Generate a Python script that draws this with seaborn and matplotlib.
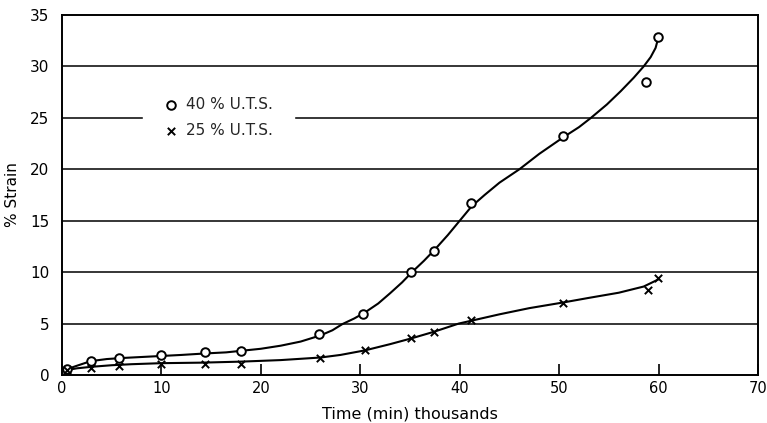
import matplotlib
matplotlib.use("Agg")
import matplotlib.pyplot as plt
import seaborn as sns
import pandas as pd

# Measured points
time_40 = [0.5, 2.9, 5.7, 10.0, 14.4, 18.0, 25.8, 30.3, 35.1, 37.4, 41.1, 50.4, 58.7, 59.9]
strain_40 = [0.6, 1.4, 1.7, 1.9, 2.2, 2.3, 4.0, 5.9, 10.0, 12.1, 16.7, 23.2, 28.5, 32.9]
time_25 = [0.5, 2.9, 5.7, 10.0, 14.4, 18.0, 25.9, 30.5, 35.1, 37.4, 41.1, 50.4, 58.9, 59.9]
strain_25 = [0.5, 0.7, 0.9, 1.1, 1.1, 1.1, 1.65, 2.4, 3.6, 4.2, 5.3, 7.0, 8.3, 9.4]

# Fitted curves as drawn
curve_x_40 = [0.3, 1.5, 2.9, 4.5, 6.0, 8.0, 10.0, 12.0, 14.5, 16.5, 18.0, 20.0, 22.0, 24.0, 26.0,
              27.2, 28.2, 29.4, 30.5, 31.8, 33.0, 34.2, 35.2, 36.4, 37.5, 38.8, 40.0, 41.2, 42.5,
              44.0, 46.0, 48.0, 50.4, 52.0, 53.2, 54.8, 56.2, 57.5, 58.5, 59.2, 59.7, 59.95]
curve_y_40 = [0.5, 0.9, 1.35, 1.55, 1.65, 1.75, 1.85, 1.95, 2.1, 2.2, 2.35, 2.55, 2.85, 3.25, 3.85,
              4.35, 4.95, 5.5, 6.1, 6.95, 7.95, 9.0, 10.0, 11.1, 12.2, 13.6, 15.0, 16.4, 17.5,
              18.7, 20.0, 21.5, 23.1, 24.1, 25.0, 26.3, 27.6, 28.9, 30.0, 30.9, 31.8, 32.7]
curve_x_25 = [0.3, 1.5, 3.0, 5.0, 7.0, 10.0, 14.0, 18.0, 22.0, 26.0, 28.0, 30.5, 33.0, 35.1,
              37.4, 39.9, 41.5, 44.0, 47.0, 50.4, 53.0, 56.0, 58.5, 60.0]
curve_y_25 = [0.45, 0.65, 0.8, 0.95, 1.05, 1.15, 1.2, 1.3, 1.45, 1.7, 1.95, 2.4, 3.0, 3.55,
              4.2, 5.0, 5.35, 5.9, 6.5, 7.05, 7.5, 8.0, 8.6, 9.3]

x_ticks = [0, 10, 20, 30, 40, 50, 60, 70]
y_ticks = [0, 5, 10, 15, 20, 25, 30, 35]

sns.set_theme(style="white")
plt.rcParams["font.family"] = ["DejaVu Sans"]

fig = plt.figure(figsize=(7.67, 4.23), dpi=100)
ax = fig.add_axes([62 / 767, 48 / 423, 696 / 767, 360 / 423])

for y in y_ticks[1:-1]:
    ax.axhline(y, color="black", lw=1.1, zorder=1)

c40 = pd.DataFrame({"t": curve_x_40, "s": curve_y_40})
c25 = pd.DataFrame({"t": curve_x_25, "s": curve_y_25})
sns.lineplot(data=c40, x="t", y="s", sort=False, color="black", lw=1.5, ax=ax, zorder=2)
sns.lineplot(data=c25, x="t", y="s", sort=False, color="black", lw=1.5, ax=ax, zorder=2)

p40 = pd.DataFrame({"t": time_40, "s": strain_40})
p25 = pd.DataFrame({"t": time_25, "s": strain_25})
sns.scatterplot(data=p40, x="t", y="s", marker="o", s=38, facecolor="white",
                edgecolor="black", linewidth=1.4, ax=ax, zorder=3, label="40 % U.T.S.")
sns.scatterplot(data=p25, x="t", y="s", marker="x", s=28, color="black",
                linewidth=1.4, ax=ax, zorder=3, label="25 % U.T.S.")

ax.set_xlim(0, 70)
ax.set_ylim(0, 35)
ax.set_xticks(x_ticks)
ax.set_yticks(y_ticks)
ax.tick_params(axis="x", direction="in", length=8, width=1.2, colors="black",
               labelsize=10.5, pad=4, bottom=True)
ax.tick_params(axis="y", length=0, labelsize=11, pad=9, colors="black")
for sp in ax.spines.values():
    sp.set_color("black")
    sp.set_linewidth(1.4)
    sp.set_visible(True)

ax.set_xlabel("Time (min) thousands", fontsize=11.5, labelpad=8, color="black")
ax.set_ylabel("% Strain", fontsize=11, labelpad=7, color="black")

leg = ax.legend(loc="center", bbox_to_anchor=(0.225, 0.715), frameon=True,
                fontsize=11, handletextpad=0.6, borderpad=1.4, labelspacing=0.75,
                handlelength=0.8)
leg.get_frame().set_facecolor("white")
leg.get_frame().set_edgecolor("white")
leg.get_frame().set_alpha(1)
leg.set_zorder(5)

fig.savefig("out.png", dpi=100)
